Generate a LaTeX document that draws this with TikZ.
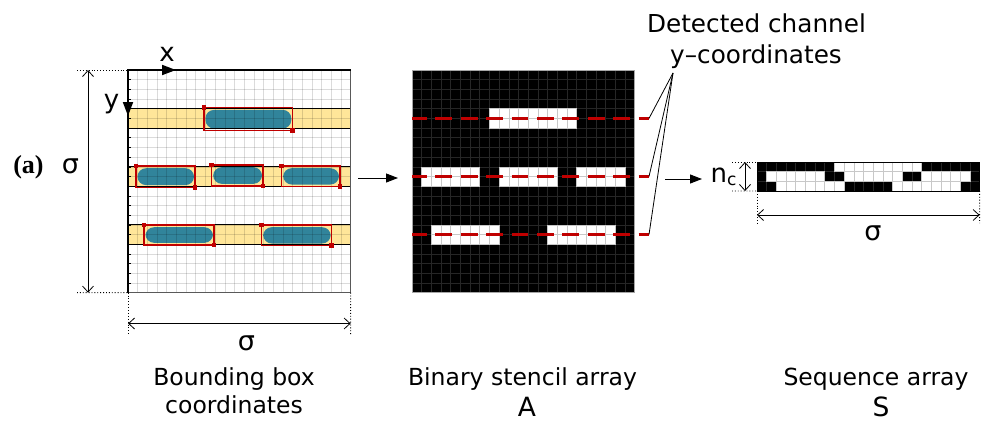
\documentclass[tikz,border=0pt]{standalone}
\usepackage{fontspec}
\setmainfont{DejaVu Sans}
\newfontfamily\labelserif{Liberation Serif}
\usetikzlibrary{arrows.meta}
\definecolor{bandyellow}{HTML}{FFE699}
\definecolor{capsteal}{HTML}{31849B}
\definecolor{boxred}{HTML}{C00000}
\definecolor{darkgrid}{HTML}{262626}
\definecolor{lightgrid}{HTML}{C8C8C8}

\tikzset{
  lbl/.style={font=\fontsize{23.5}{28}\selectfont, inner sep=0pt, anchor=base},
  biglbl/.style={font=\fontsize{26.5}{28}\selectfont, inner sep=0pt, anchor=base},
  toplbl/.style={font=\fontsize{24.7}{28}\selectfont, inner sep=0pt, anchor=base},
  sym/.style={font=\fontsize{27}{30}\selectfont, inner sep=0pt, anchor=base},
  panel/.style={minimum width=222.64pt, minimum height=222.64pt, inner sep=0pt, outer sep=0pt, anchor=north west},
  seqpanel/.style={minimum width=222.64pt, minimum height=29.04pt, inner sep=0pt, outer sep=0pt, anchor=north west},
  dimline/.style={line width=0.8pt, {Straight Barb[length=6pt,width=11pt]}-{Straight Barb[length=6pt,width=11pt]}},
  extline/.style={line width=0.9pt, dotted},
  flow/.style={line width=1pt, -{Triangle[length=12pt,width=9pt]}},
  axisarrow/.style={line width=1.8pt, -{Triangle[length=14pt,width=10pt]}},
  capsule/.style={fill=capsteal, rounded corners=8.5pt},
  bbox/.style={draw=boxred, line width=1.2pt},
  chan/.style={draw=boxred, line width=2.3pt, dash pattern=on 16.7pt off 8.7pt, dash phase=2pt},
  leader/.style={line width=0.8pt},
  bbmark/.pic={\fill[boxred] (-2.3,-2.3) rectangle (2.3,2.3);},
}

\begin{document}
\begin{tikzpicture}[x=1pt,y=-1pt]
\useasboundingbox (0,0) rectangle (989,423);
\pgfmathsetmacro\cw{9.68}

% ---------- panel frames (reference nodes) ----------
\node[panel] (L) at (128,70) {};
\node[panel] (M) at (412,70) {};
\node[seqpanel] (S) at (757,162) {};

% ---------- bounding box panel ----------
\fill[white] (L.north west) rectangle (L.south east);
\foreach \r in {4,10,16}{
  \fill[bandyellow] (128,70+\r*\cw) rectangle (128+23*\cw,70+\r*\cw+2*\cw);
}
\foreach \xa/\ya/\xb/\yb in {204/107.7/292.3/130.7,
                             136/166/195/187.3, 211.7/165/263/186, 281.7/166/340/186.7,
                             144/225/214/245, 261.7/225/331.7/245.7}{
  \fill[capsule] (\xa+1.5,\ya+2.2) rectangle (\xb-1,\yb-2.2);
}
% graph paper
\foreach \i in {1,...,22}{
  \draw[black, opacity=0.14, line width=0.6pt] (128+\i*\cw,70) -- (128+\i*\cw,70+23*\cw);
  \draw[black, opacity=0.14, line width=0.6pt] (128,70+\i*\cw) -- (128+23*\cw,70+\i*\cw);
  \draw[line width=0.6pt] (128,70+\i*\cw) -- (131,70+\i*\cw);
}
\foreach \r in {4,10,16}{
  \draw[line width=1.1pt] (128,70+\r*\cw) -- (128+23*\cw,70+\r*\cw);
  \draw[line width=1.1pt] (128,70+\r*\cw+2*\cw) -- (128+23*\cw,70+\r*\cw+2*\cw);
}
\foreach \xa/\ya/\xb/\yb in {204/107.7/292.3/130.7,
                             136/166/195/187.3, 211.7/165/263/186, 281.7/166/340/186.7,
                             144/225/214/245, 261.7/225/331.7/245.7}{
  \draw[bbox] (\xa,\ya) rectangle (\xb,\yb);
  \pic at (\xa,\ya) {bbmark};
  \pic at (\xb,\yb) {bbmark};
}
\draw[gray!70!black, line width=0.9pt] (L.north east) -- (L.south east) -- (L.south west);
\draw[line width=1.2pt] (L.south west) -- (L.north west) -- (L.north east);

% axes
\draw[axisarrow] (L.north west) -- (176,70);
\draw[axisarrow] (L.north west) -- (128,116);
\node[sym, font=\fontsize{26}{28}\selectfont] (xlab) at (167,61) {x};
\node[sym, font=\fontsize{26}{28}\selectfont] (ylab) at (111.5,108) {y};

% dimensions of the square
\draw[extline] (77,70) -- (L.north west);
\draw[extline] (77,292.64) -- (L.south west);
\coordinate (vtop) at (88,70);
\coordinate (vbot) at (88,292.64);
\draw[dimline] (vtop) -- (vbot);
\node[sym] (sigL) at (70.5,173) {σ};
\node[inner sep=0pt, anchor=base, font=\labelserif\bfseries\fontsize{26}{28}\selectfont] (tag) at (28.5,173) {(a)};

\draw[extline] (L.south west) -- (128,336);
\draw[extline] (L.south east) -- (350.64,336);
\coordinate (hl) at (128,323.5);
\coordinate (hr) at (350.64,323.5);
\draw[dimline] (hl) -- (hr);
\node[sym] (sigB) at (246.5,350) {σ};

% ---------- binary stencil array ----------
\fill[black] (M.north west) rectangle (M.south east);
\foreach \i in {1,...,22}{
  \draw[darkgrid, line width=0.6pt] (412+\i*\cw,70) -- (412+\i*\cw,70+23*\cw);
  \draw[darkgrid, line width=0.6pt] (412,70+\i*\cw) -- (412+23*\cw,70+\i*\cw);
}
\foreach \r/\a/\b in {4/8/16, 5/8/16,
                      10/1/6, 11/1/6, 10/9/14, 11/9/14, 10/17/21, 11/17/21,
                      16/2/8, 17/2/8, 16/14/20, 17/14/20}{
  \foreach \k in {\a,...,\b}{
    \draw[lightgrid, fill=white, line width=0.6pt] (412+\k*\cw,70+\r*\cw) rectangle ++(\cw,\cw);
  }
}
\draw[gray!70, line width=0.9pt] (M.north west) rectangle (M.south east);

% detected channel rows
\coordinate (c1s) at (412,118.4);  \coordinate (c1e) at (649,118.4);
\coordinate (c2s) at (412,176.5);  \coordinate (c2e) at (649,176.5);
\coordinate (c3s) at (412,234.6);  \coordinate (c3e) at (649,234.6);
\draw[chan] (c1s) -- (c1e);
\draw[chan] (c2s) -- (c2e);
\draw[chan] (c3s) -- (c3e);
\coordinate (fan) at (673,73);
\draw[leader] (c1e) -- (fan);
\draw[leader] (c2e) -- (fan);
\draw[leader] (c3e) -- (fan);
\node[toplbl] (det1) at (756.5,32) {Detected channel};
\node[toplbl] (det2) at (756,63) {y–coordinates};

% flow arrows
\coordinate (f1s) at (358,178);
\coordinate (f1e) at (398,178);
\draw[flow] (f1s) -- (f1e);
\coordinate (f2s) at (665,179);
\coordinate (f2e) at (702,179);
\draw[flow] (f2s) -- (f2e);

% ---------- sequence array ----------
\fill[black] (S.north west) rectangle (S.south east);
\foreach \i in {1,...,22}{
  \draw[darkgrid, line width=0.6pt] (757+\i*\cw,162) -- (757+\i*\cw,162+3*\cw);
}
\foreach \i in {1,2}{
  \draw[darkgrid, line width=0.6pt] (757,162+\i*\cw) -- (757+23*\cw,162+\i*\cw);
}
\foreach \r/\a/\b in {0/8/16, 1/1/6, 1/9/14, 1/17/21, 2/2/8, 2/14/20}{
  \foreach \k in {\a,...,\b}{
    \draw[lightgrid, fill=white, line width=0.6pt] (757+\k*\cw,162+\r*\cw) rectangle ++(\cw,\cw);
  }
}
\draw[black, line width=1pt] (S.north west) rectangle (S.south east);

\draw[extline] (732,162) -- (S.north west);
\draw[extline] (732,191.04) -- (S.south west);
\coordinate (nt) at (745,162);
\coordinate (nb) at (745,191.04);
\draw[dimline] (nt) -- (nb);
\node[sym, font=\fontsize{26}{28}\selectfont, anchor=base west] (nc) at (710.5,182) {n\raisebox{-3.5pt}{\fontsize{17}{17}\selectfont c}};

\draw[extline] (S.south west) -- (757,223);
\draw[extline] (S.south east) -- (979.64,223);
\coordinate (sl) at (757,215);
\coordinate (sr) at (979.64,215);
\draw[dimline] (sl) -- (sr);
\node[sym] (sigS) at (873,240) {σ};

% ---------- captions ----------
\node[lbl] (cap1a) at (234,385) {Bounding box};
\node[lbl] (cap1b) at (234,413) {coordinates};
\node[lbl] (cap2a) at (522.5,385) {Binary stencil array};
\node[biglbl] (cap2b) at (527,416.5) {A};
\node[lbl] (cap3a) at (876,385) {Sequence array};
\node[biglbl] (cap3b) at (881,416.5) {S};
\end{tikzpicture}
\end{document}
